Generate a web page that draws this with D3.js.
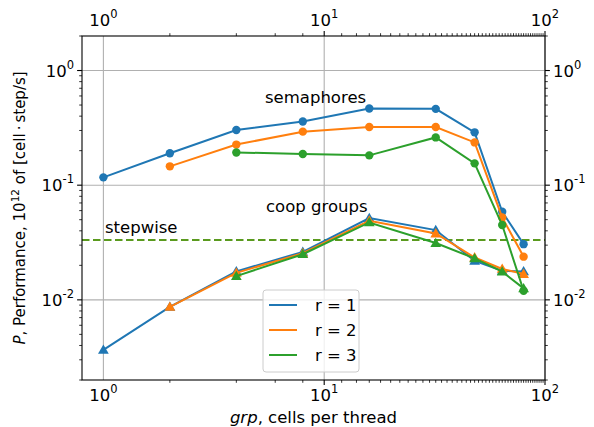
<!DOCTYPE html>
<html>
<head>
<meta charset="utf-8">
<script src="https://cdn.jsdelivr.net/npm/d3@7"></script>
<style>
  body { margin: 0; background: #fff; }
  text { font-family: "DejaVu Sans", sans-serif; fill: #000; }
</style>
</head>
<body>
<div id="chart"></div>
<script>
// cells per thread
const grp = [1, 2, 4, 8, 16, 32, 48, 64, 80];

// semaphores (circles), null = not measured
const semR1 = [0.117, 0.19, 0.303, 0.359, 0.466, 0.463, 0.289, 0.0587, 0.0306];
const semR2 = [null, 0.146, 0.226, 0.293, 0.322, 0.322, 0.236, 0.0523, 0.0238];
const semR3 = [null, null, 0.193, 0.187, 0.182, 0.261, 0.155, 0.0449, 0.012];

// coop groups (triangles)
const coopR1 = [0.00366, 0.00869, 0.0177, 0.0262, 0.0517, 0.0406, 0.0219, 0.0179, 0.0177];
const coopR2 = [null, 0.0087, 0.0172, 0.0255, 0.049, 0.0379, 0.0234, 0.0186, 0.0168];
const coopR3 = [null, null, 0.0161, 0.025, 0.0473, 0.0313, 0.023, 0.0176, 0.0126];

const stepwise = 0.0332;

const seriesNames = ["r = 1", "r = 2", "r = 3"];
const colors = ["#1f77b4", "#ff7f0e", "#2ca02c"];
const xTicks = [1, 10, 100];
const yTicks = [0.01, 0.1, 1];

const width = 594, height = 427;
const margin = {top: 36, right: 49, bottom: 47, left: 82};
const innerW = width - margin.left - margin.right;
const innerH = height - margin.top - margin.bottom;
const fs = 16.5;

const svg = d3.select("#chart").append("svg")
  .attr("width", width).attr("height", height);
const g = svg.append("g").attr("transform", `translate(${margin.left},${margin.top})`);

const x = d3.scaleLog().domain([0.8, 100]).range([0, innerW]);
const y = d3.scaleLog().domain([0.002, 2]).range([innerH, 0]);

// grid
g.append("g").selectAll("line").data(xTicks).join("line")
  .attr("x1", d => x(d)).attr("x2", d => x(d))
  .attr("y1", 0).attr("y2", innerH)
  .attr("stroke", "#b0b0b0").attr("stroke-width", 1.1);
g.append("g").selectAll("line").data(yTicks).join("line")
  .attr("y1", d => y(d)).attr("y2", d => y(d))
  .attr("x1", 0).attr("x2", innerW)
  .attr("stroke", "#b0b0b0").attr("stroke-width", 1.1);

// minor tick values
function minors(scale) {
  const [a, b] = scale.domain();
  return scale.ticks(50).filter(v => v >= a && v <= b);
}
const xAll = minors(x), yAll = minors(y);
const isMajor = v => Math.abs(Math.log10(v) - Math.round(Math.log10(v))) < 1e-9;

function supLabel(sel, p) {
  sel.text("10");
  sel.append("tspan").attr("dy", -8).attr("font-size", 11.5).text(p);
}

function drawXAxis(gAxis, dir) {
  gAxis.selectAll("line").data(xAll).join("line")
    .attr("x1", d => x(d)).attr("x2", d => x(d))
    .attr("y1", 0).attr("y2", d => dir * (isMajor(d) ? 4.9 : 2.8))
    .attr("stroke", "#000").attr("stroke-width", d => isMajor(d) ? 1.1 : 0.8);
  gAxis.selectAll("text").data(xTicks).join("text")
    .attr("x", d => x(d)).attr("y", dir > 0 ? 21 : -10)
    .attr("text-anchor", "middle").attr("font-size", fs)
    .each(function(d) { supLabel(d3.select(this), Math.round(Math.log10(d))); });
}
function drawYAxis(gAxis, dir) {
  gAxis.selectAll("line").data(yAll).join("line")
    .attr("y1", d => y(d)).attr("y2", d => y(d))
    .attr("x1", 0).attr("x2", d => dir * (isMajor(d) ? 4.9 : 2.8))
    .attr("stroke", "#000").attr("stroke-width", d => isMajor(d) ? 1.1 : 0.8);
  gAxis.selectAll("text").data(yTicks).join("text")
    .attr("x", dir < 0 ? -8 : 8).attr("y", d => y(d) + 6)
    .attr("text-anchor", dir < 0 ? "end" : "start").attr("font-size", fs)
    .each(function(d) { supLabel(d3.select(this), Math.round(Math.log10(d))); });
}
drawXAxis(g.append("g").attr("transform", `translate(0,${innerH})`), 1);
drawXAxis(g.append("g"), -1);
drawYAxis(g.append("g"), -1);
drawYAxis(g.append("g").attr("transform", `translate(${innerW},0)`), 1);

// stepwise reference
g.append("line")
  .attr("x1", 0).attr("x2", innerW)
  .attr("y1", y(stepwise)).attr("y2", y(stepwise))
  .attr("stroke", "#5a9a1e").attr("stroke-width", 2).attr("stroke-dasharray", "7.5,3.5");

const line = d3.line()
  .defined(d => d[1] != null)
  .x(d => x(d[0])).y(d => y(d[1]));

const sem = [semR1, semR2, semR3];
const coop = [coopR1, coopR2, coopR3];
const tri = d3.symbol().type(d3.symbolTriangle).size(50);

for (let i = 0; i < 3; i++) {
  const sPts = grp.map((v, j) => [v, sem[i][j]]).filter(d => d[1] != null);
  const cPts = grp.map((v, j) => [v, coop[i][j]]).filter(d => d[1] != null);
  g.append("path").datum(sPts).attr("d", line)
    .attr("fill", "none").attr("stroke", colors[i]).attr("stroke-width", 2);
  g.append("g").selectAll("circle").data(sPts).join("circle")
    .attr("cx", d => x(d[0])).attr("cy", d => y(d[1])).attr("r", 4.2)
    .attr("fill", colors[i]);
  g.append("path").datum(cPts).attr("d", line)
    .attr("fill", "none").attr("stroke", colors[i]).attr("stroke-width", 2);
  g.append("g").selectAll("path").data(cPts).join("path")
    .attr("d", tri)
    .attr("transform", d => `translate(${x(d[0])},${y(d[1]) + 0.8})`)
    .attr("fill", colors[i]);
}

// spines
g.append("rect").attr("width", innerW).attr("height", innerH)
  .attr("fill", "none").attr("stroke", "#000").attr("stroke-width", 1.1);

// annotations
g.append("text").attr("x", 265 - margin.left).attr("y", 103 - margin.top).attr("font-size", fs).text("semaphores");
g.append("text").attr("x", 266 - margin.left).attr("y", 212 - margin.top).attr("font-size", fs).text("coop groups");
g.append("text").attr("x", 105 - margin.left).attr("y", 233 - margin.top).attr("font-size", fs).text("stepwise");

// legend
const lg = g.append("g").attr("transform", `translate(${263 - margin.left},${290 - margin.top})`);
lg.append("rect").attr("width", 96).attr("height", 82).attr("rx", 3)
  .attr("fill", "#fff").attr("fill-opacity", 0.8)
  .attr("stroke", "#cccccc").attr("stroke-width", 1);
seriesNames.forEach((name, i) => {
  const yy = 15 + i * 25;
  lg.append("line").attr("x1", 6).attr("x2", 34).attr("y1", yy).attr("y2", yy)
    .attr("stroke", colors[i]).attr("stroke-width", 2);
  lg.append("text").attr("x", 52).attr("y", yy + 6).attr("font-size", fs).text(name);
});

// axis titles
const xl = svg.append("text").attr("x", margin.left + innerW / 2).attr("y", 423)
  .attr("text-anchor", "middle").attr("font-size", fs);
xl.append("tspan").attr("font-style", "italic").text("grp");
xl.append("tspan").text(", cells per thread");

const yl = svg.append("text")
  .attr("transform", `translate(25,${margin.top + innerH / 2}) rotate(-90)`)
  .attr("text-anchor", "middle").attr("font-size", 15);
yl.append("tspan").attr("font-style", "italic").text("P");
yl.append("tspan").text(", Performance, 10");
yl.append("tspan").attr("dy", -6).attr("font-size", 10.5).text("12");
yl.append("tspan").attr("dy", 6).text(" of [cell\u2009\u00b7\u2009step/s]");
</script>
</body>
</html>
